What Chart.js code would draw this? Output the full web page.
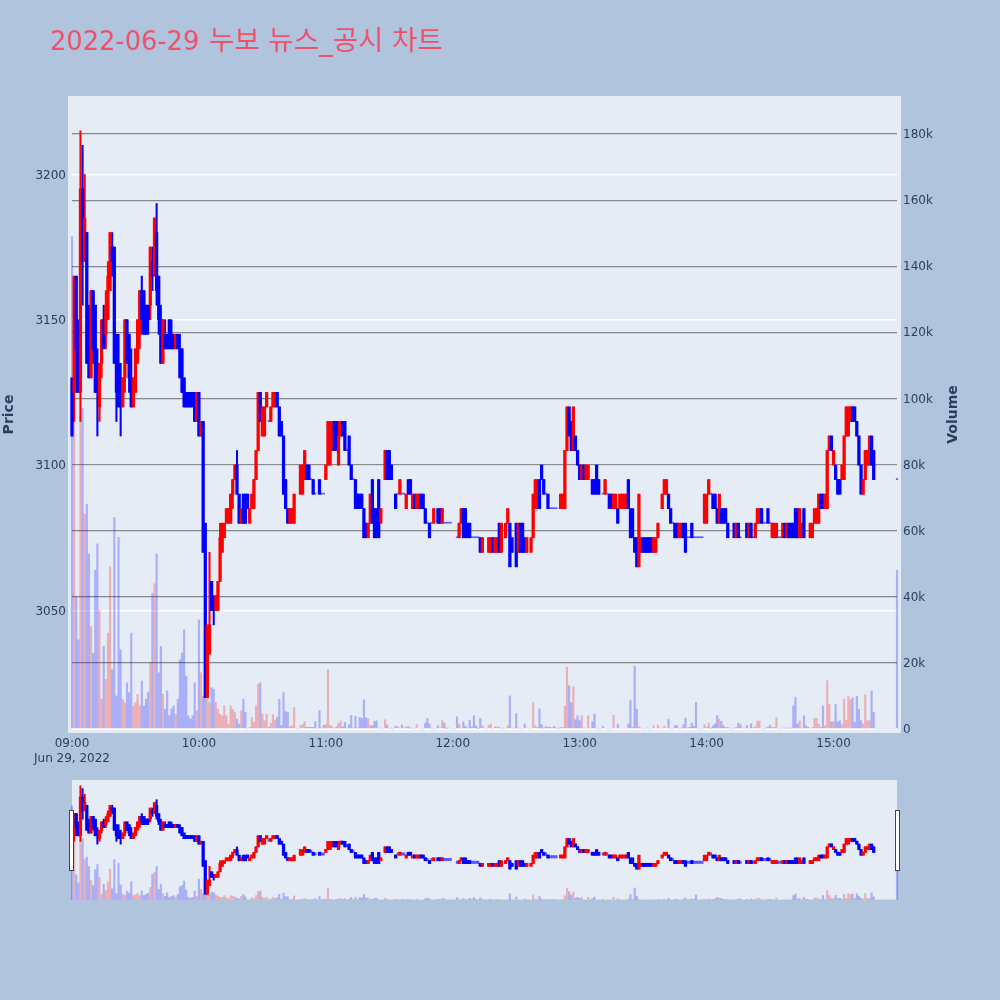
<!DOCTYPE html>
<html lang="ko">
<head>
<meta charset="utf-8">
<title>2022-06-29 누보 뉴스_공시 차트</title>
<script src="https://cdn.jsdelivr.net/npm/chart.js@4"></script>
<style>
html,body{margin:0;padding:0;width:1000px;height:1000px;overflow:hidden;background:#B0C4DE}
canvas{position:absolute;left:0;display:block}
#main{top:0}
#slider{top:780px}
</style>
</head>
<body>
<canvas id="main" width="1000" height="780"></canvas>
<canvas id="slider" width="1000" height="120"></canvas>
<script>
const n = null;
const titleDate = "2022-06-29";
const titleWords = "누보 뉴스_공시 차트";
const priceTitle = "Price";
const volumeTitle = "Volume";
const dateLabel = "Jun 29, 2022";
const timeTicks = [0,60,120,180,240,300,360];
const timeLabels = ["09:00","10:00","11:00","12:00","13:00","14:00","15:00"];
const priceTicks = [3050,3100,3150,3200];
const volumeTicks = [0,20,40,60,80,100,120,140,160,180];

const opens = [
3130,3125,3165,3140,3125,3195,3170,3180,3150,3130,
3160,3155,3135,3120,3135,3150,3145,3150,3160,3175,
3175,3145,3135,3130,3120,3130,3150,3145,3130,3120,
3125,3135,3145,3160,3160,3155,3155,3155,3170,3165,
3180,3165,3150,3135,3145,3145,3150,3145,3145,3140,
3145,3140,3140,3130,3125,3125,3125,3125,3125,3115,
3125,3110,3115,3080,3020,3035,3060,3055,3050,3050,
3060,3070,3075,3080,3080,3080,3090,3095,3100,3090,
3080,3090,3090,3090,3080,3085,3085,3095,3105,3125,
3110,3110,3120,3115,3115,3120,3120,3125,3120,3115,
3110,3095,3085,3080,3080,3080,n,n,3090,3090,
3095,3100,3100,3095,3095,3090,n,3095,3090,3090,
3095,3100,3100,3105,3115,3115,3100,3110,3115,3115,
3105,3110,3100,3095,3095,3090,3090,3090,3085,3080,
3075,3080,3095,3085,3085,3095,3080,n,3095,3105,
3105,3100,n,3090,3090,3090,3090,3090,3085,3095,
3095,3085,3090,3085,3085,3090,3090,3085,3080,3080,
3080,3080,n,3085,3085,3080,3080,3080,3080,3080,
n,n,3075,3075,3080,3085,3085,3080,3080,3075,
3075,3075,3075,3075,3070,n,n,3070,3070,3075,
3070,3070,3080,3070,n,3075,3080,3080,3075,n,
3080,3070,3080,3080,3075,3070,n,3070,3075,3085,
3085,3095,3100,3095,3090,3090,3085,3085,3085,3085,
n,3085,3085,3085,3105,3120,3115,3105,3110,3105,
3100,3095,3100,3095,3095,n,3095,3095,3100,3095,
n,3090,3090,3090,3090,3090,3085,3085,3085,3085,
3085,3085,3085,3095,3085,3085,3075,3075,3065,3070,
3075,3075,3075,3075,3075,3070,3070,3075,n,3085,
3090,3090,3090,3085,3080,3080,3080,3075,3075,3080,
3080,3075,3075,3080,3075,3075,3075,3075,3075,3080,
3080,3090,3090,3090,3090,3085,3080,3085,3085,3085,
3080,n,n,3080,3075,3080,3075,n,n,3080,
3075,3080,3075,3075,3080,3080,3085,3080,3080,3085,
3080,3075,3075,3075,3075,3075,3075,3080,3075,3080,
3080,3080,3085,3085,3075,3075,3085,n,n,3075,
3075,3080,3080,3080,3090,3090,3085,3085,3105,3110,
3100,3100,3095,3095,3095,3095,3110,3110,3115,3120,
3120,3115,3110,3100,3090,3095,3100,3100,3110,3105,
n,n,n,n,n,n,n,n,n,n,
3095];

const closes = [
3110,3165,3140,3125,3195,3170,3185,3135,3130,3160,
3140,3125,3125,3135,3150,3140,3155,3165,3180,3170,
3135,3125,3120,3120,3130,3150,3135,3130,3120,3130,
3140,3150,3160,3150,3145,3145,3150,3175,3165,3185,
3160,3150,3135,3150,3140,3140,3140,3140,3140,3145,
3140,3130,3125,3120,3120,3120,3120,3120,3115,3125,
3110,3115,3070,3020,3045,3045,3050,3050,3055,3060,
3075,3080,3080,3085,3085,3090,3095,3100,3090,3080,
3085,3080,3080,3085,3085,3090,3095,3105,3125,3115,
3120,3120,3125,3115,3120,3125,3125,3120,3110,3110,
3090,3085,3080,3085,3085,3090,n,n,3100,3100,
3105,3095,3095,3095,3090,3090,n,3090,3090,3090,
3100,3115,3115,3115,3105,3105,3110,3115,3110,3105,
3105,3100,3095,3095,3085,3085,3085,3085,3075,3075,
3080,3090,3080,3075,3075,3075,3085,n,3105,3095,
3095,3095,n,3085,3090,3095,3090,3090,3090,3090,
3090,3090,3085,3090,3090,3085,3085,3080,3080,3075,
3080,3085,n,3080,3080,3085,3080,3080,3080,3080,
n,n,3075,3080,3085,3075,3075,3075,3075,3075,
3075,3075,3075,3070,3075,n,n,3075,3075,3070,
3075,3075,3070,3080,n,3080,3085,3065,3070,n,
3065,3080,3070,3070,3070,3075,n,3075,3090,3095,
3095,3085,3095,3090,3090,3085,3085,3085,3085,3085,
n,3090,3090,3105,3120,3110,3105,3120,3105,3100,
3095,3100,3095,3100,3100,n,3090,3090,3090,3090,
n,3090,3095,3090,3085,3085,3090,3090,3080,3090,
3090,3090,3090,3085,3075,3075,3070,3065,3090,3075,
3070,3070,3070,3070,3070,3075,3075,3080,n,3090,
3095,3095,3085,3080,3080,3075,3075,3080,3080,3075,
3070,3075,3075,3075,3075,3075,3075,3075,3075,3090,
3090,3095,3090,3085,3085,3080,3090,3080,3080,3080,
3075,n,n,3075,3080,3075,3075,n,n,3075,
3080,3075,3075,3080,3085,3085,3080,3080,3080,3080,
3080,3080,3080,3080,3075,3075,3080,3075,3080,3075,
3075,3075,3075,3075,3085,3080,3075,n,n,3080,
3080,3085,3085,3090,3085,3085,3090,3105,3110,3105,
3105,3095,3090,3090,3100,3110,3120,3120,3120,3115,
3115,3110,3100,3090,3095,3105,3105,3110,3100,3095,
n,n,n,n,n,n,n,n,n,n,
3095];

const highMinutes = [3,4,5,6,8,12,15,16,17,19,22,23,28,33,38,40,42,44,47,51,65,70,78,126];
const highValues = [3150,3215,3210,3200,3155,3140,3155,3160,3170,3180,3145,3135,3140,3165,3175,3190,3155,3150,3150,3145,3070,3080,3105,3115];
const lowMinutes = [1,2,4,5,10,12,13,14,16,19,21,23,25,27,32,33,36,37,38,40,41,67,76];
const lowValues = [3115,3125,3115,3155,3135,3110,3115,3130,3140,3165,3115,3110,3125,3125,3140,3145,3145,3150,3160,3155,3145,3045,3085];

const volumes = [
149,100,40,27,95,97,65,68,53,31,
23,48,56,36,9,25,15,29,49,18,
64,10,58,24,9,8,14,11,29,7,
8,10.5,7,14.5,7,9,11,20,41,44,
53,17,25,10.5,6,11.5,4,6,7,4.5,
9,21,23,30,16,4,3,4,14,5.5,
33,17,10,40,18,8,12.5,12,8,6,
4.5,4,7,4,1.5,7,6,5,3,1.5,
5.5,9,5,0,0.5,3.5,2,7,13.5,14,
4.5,2.5,4.5,0.5,1.7,4.3,2.7,3.5,9,1,
11,5.3,5,0.7,1,6.5,0,0,1,1.3,
2.2,0.5,0.5,0.5,0.5,2.2,0,5.6,0.3,1.1,
1.4,18,1.1,0.7,0,0.7,1.7,2.4,0.7,2,
0.3,1.3,4.1,0.3,3.8,0.3,3.5,3.2,8.8,3.4,
3.1,1,1,2.3,2.5,0,0.2,0,2.8,1.2,
0,0.2,0,0.9,0.6,0,1.2,0.3,0.7,0.7,
0.2,0.3,0,1.3,0,0,0,1.8,3.2,1.5,
0.2,0,0,1,0.3,2.5,1.8,0.1,0.3,0,
0,0,3.7,1.5,0.3,2.2,0.8,0.3,2.7,0.6,
4,1,0.1,3.2,1,0.3,0,1.1,1.5,0,
0.7,0.7,0.5,0,0.2,0,1,10,0.3,0,
4.7,0.2,0,0,1.5,0.3,0,0,8,1,
0.5,6.1,1.3,0.2,0.7,0.5,0.5,0.4,0.8,0,
0.2,0.5,0.5,6.9,18.7,13.1,8,12.8,2.8,4,
2.5,4,0.3,0,4,0,2.2,4.5,0,0,
0,0.8,0,0,0,0,4.1,0,1.5,0.3,
0,0,0,1.5,8.6,0.5,19,6,0.7,0.2,
0,0,0.3,0,0,1,0,1.2,0.3,0,
0.9,0.3,2.9,0,0,1,1.1,0,0.2,1.3,
3.3,0.3,0.5,1.8,0.8,8,0,0,0,1.3,
0.5,1.8,0.2,1,1.6,4.1,3,2.3,1,0.4,
0.5,0,0,0.2,0.5,1.8,1.3,0.3,0,1.1,
0,1.6,0.3,0.7,2.4,2.4,0,0,0.2,0.6,
1.1,0.5,0.5,3.5,0,0,0.2,0.2,0,0.2,
0.2,7,9.6,1.5,2.5,0.3,4,1,0.5,0,
0.5,3.2,3.2,1.5,0.5,7,1,14.6,7.4,2.2,
2.2,7.4,2.2,2.5,1.3,9,2.7,9.8,8.8,9.4,
2,9.9,6,2.5,1.5,10.4,2.5,2.5,11.5,5,
0,0,0,0,0,0,0,0,0,0,
48];

const UP = '#ff0000', DOWN = '#0000ff';
const UP_PALE = 'rgba(255,0,0,0.26)', DOWN_PALE = 'rgba(0,0,255,0.26)';
const FLAT = 'rgba(0,0,255,0.62)';
const TEXT = '#2a3f5f', FONT = '"DejaVu Sans", "Noto Sans CJK KR", sans-serif';
const PRICE_MIN = 3009.2, PRICE_MAX = 3225.6, VOL_MAX = 190.3, MIN_X = 0, MAX_X = 390;

const highAt = new Map(highMinutes.map((m,i)=>[m,highValues[i]]));
const lowAt = new Map(lowMinutes.map((m,i)=>[m,lowValues[i]]));
const bars = [], wicks = [], flats = [], barColors = [], wickColors = [];
opens.forEach((o,m)=>{
  const c = closes[m];
  if (o === null || c === null) return;
  if (o === c) { flats.push({x:m, y:[o,c]}); return; }
  const col = c > o ? UP : DOWN;
  bars.push({x:m, y:[o,c]}); barColors.push(col);
  wicks.push({x:m, y:[lowAt.has(m)?lowAt.get(m):Math.min(o,c), highAt.has(m)?highAt.get(m):Math.max(o,c)]}); wickColors.push(col);
});
const volData = volumes.map((v,m)=>({x:m,y:v}));
const volColors = volumes.map((v,m)=> (closes[m]!==null && closes[m] > opens[m]) ? UP_PALE : DOWN_PALE);

function datasets(bodyMin, flatMin){
  return [
    {data:volData, yAxisID:'y2', backgroundColor:volColors, barThickness:1.5, order:4, grouped:false, clip:6},
    {data:flats, yAxisID:'y', backgroundColor:FLAT, barThickness:1.6, minBarLength:flatMin, order:3, grouped:false, clip:6},
    {data:wicks, yAxisID:'y', backgroundColor:wickColors, barThickness:1.4, minBarLength:1.2, order:2, grouped:false, clip:6},
    {data:bars, yAxisID:'y', backgroundColor:barColors, barThickness:2.6, minBarLength:bodyMin, order:1, grouped:false, clip:6}
  ];
}

const mainBg = {
  id:'mainBg',
  beforeDraw(ch){
    const a = ch.chartArea, g = ch.ctx;
    g.save(); g.fillStyle = '#E5ECF6';
    g.fillRect(a.left-4, a.top-4, a.right-a.left+8, a.bottom-a.top+8);
    g.restore();
  },
  afterDraw(ch){
    const g = ch.ctx, a = ch.chartArea, cy = (a.top+a.bottom)/2;
    g.save();
    g.textBaseline='alphabetic';
    g.fillStyle='#F0506A'; g.textAlign='left';
    g.font='25.7px '+FONT; g.fillText(titleDate,50,50);
    g.font='27.5px '+FONT; g.fillText(titleWords,209,50);
    g.textBaseline='middle';
    g.fillStyle=TEXT; g.font='bold 14px '+FONT; g.textAlign='center';
    g.save(); g.translate(9,cy); g.rotate(-Math.PI/2); g.fillText(priceTitle,0,0); g.restore();
    g.save(); g.translate(953,cy); g.rotate(-Math.PI/2); g.fillText(volumeTitle,0,0); g.restore();
    g.restore();
  }
};

new Chart(document.getElementById('main'),{
  type:'bar',
  data:{datasets:datasets(1.4,1)},
  plugins:[mainBg],
  options:{
    responsive:false, animation:false, devicePixelRatio:1,
    layout:{padding:{top:100,bottom:11,left:0,right:0}},
    plugins:{legend:{display:false},tooltip:{enabled:false},title:{display:false}},
    events:[],
    scales:{
      x:{
        type:'linear', min:MIN_X, max:MAX_X, offset:false,
        grid:{display:false}, border:{display:false},
        afterBuildTicks(s){ s.ticks = timeTicks.map(v=>({value:v})); },
        afterFit(s){ s.height = 40; },
        ticks:{
          autoSkip:false, maxRotation:0, minRotation:0, padding:0, color:TEXT,
          font:{family:FONT,size:12},
          callback(v){ const i=timeTicks.indexOf(v); return i===0?[timeLabels[0],dateLabel]:timeLabels[i]; }
        }
      },
      y:{
        position:'left', min:PRICE_MIN, max:PRICE_MAX,
        grid:{color:'#ffffff',lineWidth:1.5,drawTicks:false}, border:{display:false},
        afterBuildTicks(s){ s.ticks = priceTicks.map(v=>({value:v})); },
        afterFit(s){ s.width = 72; },
        ticks:{padding:6,labelOffset:1,color:TEXT,font:{family:FONT,size:12},callback:v=>String(v)}
      },
      y2:{
        position:'right', min:0, max:VOL_MAX,
        grid:{
          color:c=>c.tick&&c.tick.value===0?'#ffffff':'rgba(110,110,110,0.8)',
          lineWidth:c=>c.tick&&c.tick.value===0?2:1.2,
          drawTicks:false
        },
        border:{display:false},
        afterBuildTicks(s){ s.ticks = volumeTicks.map(v=>({value:v})); },
        afterFit(s){ s.width = 103; },
        ticks:{padding:6,labelOffset:1,color:TEXT,font:{family:FONT,size:12},callback:v=>v===0?'0':v+'k'}
      }
    }
  }
});

const sliderDeco = {
  id:'sliderDeco',
  beforeDraw(ch){
    const a = ch.chartArea, g = ch.ctx;
    g.save(); g.fillStyle='#E5ECF6';
    g.fillRect(a.left,a.top,a.right-a.left,a.bottom-a.top);
    g.restore();
  },
  afterDraw(ch){
    const a = ch.chartArea, g = ch.ctx;
    g.save(); g.fillStyle='#ffffff'; g.strokeStyle='#444444'; g.lineWidth=1;
    g.fillRect(a.left-2.5,30.5,4,60); g.strokeRect(a.left-2.5,30.5,4,60);
    g.fillRect(a.right-1.5,30.5,4,60); g.strokeRect(a.right-1.5,30.5,4,60);
    g.restore();
  }
};

new Chart(document.getElementById('slider'),{
  type:'bar',
  data:{datasets:datasets(3,2.4)},
  plugins:[sliderDeco],
  options:{
    responsive:false, animation:false, devicePixelRatio:1,
    layout:{padding:{left:72,right:103,top:0,bottom:0}},
    plugins:{legend:{display:false},tooltip:{enabled:false}},
    events:[],
    scales:{
      x:{type:'linear',display:false,min:MIN_X,max:MAX_X,offset:false},
      y:{display:false,min:PRICE_MIN,max:PRICE_MAX},
      y2:{display:false,min:0,max:VOL_MAX,position:'right'}
    }
  }
});
</script>
</body>
</html>
